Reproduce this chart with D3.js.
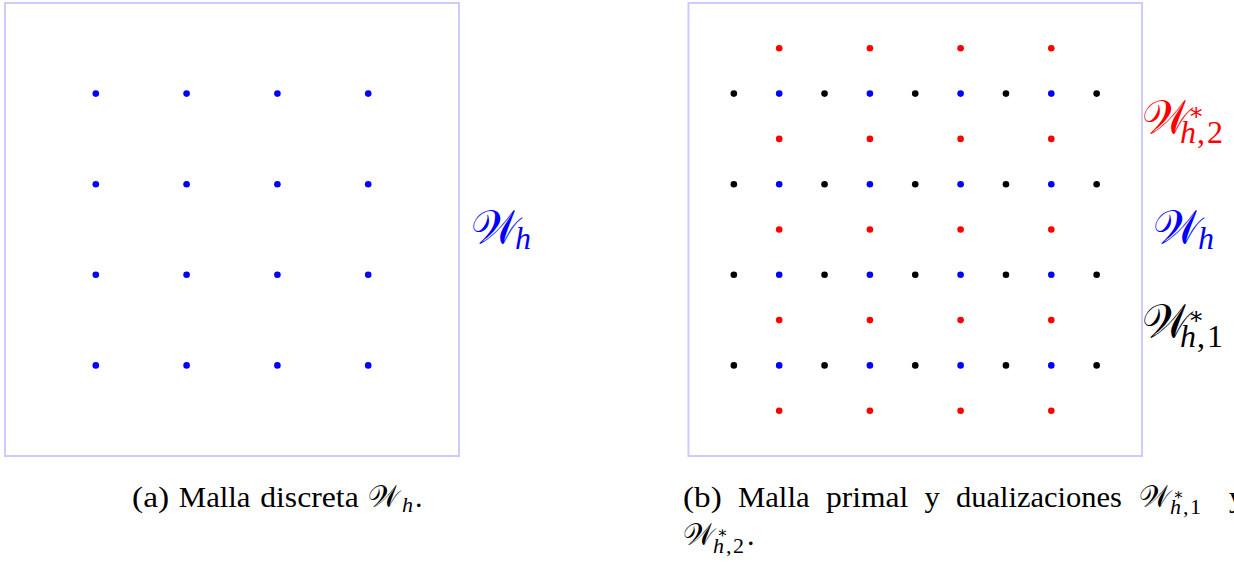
<!DOCTYPE html>
<html><head><meta charset="utf-8">
<script src="https://cdn.jsdelivr.net/npm/d3@7"></script>
<style>body{margin:0;background:#fff;overflow:hidden}</style></head>
<body>
<svg id="c" width="1234" height="570"></svg>
<script>
// ---- data (grid coordinates in units of h) ----
const domainUnits = [0, 5];
const primalX = [1, 2, 3, 4];
const primalY = [1, 2, 3, 4];
const dual1X = [0.5, 1.5, 2.5, 3.5, 4.5];
const dual1Y = [1, 2, 3, 4];
const dual2X = [1, 2, 3, 4];
const dual2Y = [0.5, 1.5, 2.5, 3.5, 4.5];

const captionA = ["(a)", "Malla", "discreta"];
const captionB1 = ["(b)", "Malla", "primal", "y", "dualizaciones"];
const captionB1End = "y";

const W = "\u{1D4B2}";
const svg = d3.select("#c");
const serif = "'Liberation Serif','DejaVu Serif',serif";

function grid(pts) { const o = []; pts.ys.forEach(y => pts.xs.forEach(x => o.push([x, y]))); return o; }

function panel(x0, x1, y0, y1, sets) {
  const sx = d3.scaleLinear().domain(domainUnits).range([x0, x1]);
  const sy = d3.scaleLinear().domain(domainUnits).range([y1, y0]);
  const g = svg.append("g");
  g.append("rect").attr("x", sx(0)).attr("y", sy(5))
    .attr("width", sx(5) - sx(0)).attr("height", sy(0) - sy(5))
    .attr("fill", "none").attr("stroke", "#ccccff").attr("stroke-width", 2);
  sets.forEach(s => {
    g.selectAll(null).data(grid(s)).enter().append("circle")
      .attr("cx", d => sx(d[0])).attr("cy", d => sy(d[1]))
      .attr("r", 3.3).attr("fill", s.color);
  });
}

panel(5, 459, 3, 456, [{xs: primalX, ys: primalY, color: "#0000ff"}]);
panel(688.5, 1142, 3, 456, [
  {xs: dual1X, ys: dual1Y, color: "#000000"},
  {xs: primalX, ys: primalY, color: "#0000ff"},
  {xs: dual2X, ys: dual2Y, color: "#ff0000"}
]);

// one <text> per math label: W, optional star superscript, subscript pieces
function mathW(o) {
  const t = svg.append("text").attr("x", o.x).attr("y", o.y)
    .attr("fill", o.color).attr("font-family", serif).attr("font-size", o.fs);
  t.append("tspan").text(W);
  if (o.star) t.append("tspan").attr("x", o.star[0]).attr("y", o.star[1])
    .attr("font-size", o.starFs).text("\u2217");
  t.append("tspan").attr("x", o.sub[0]).attr("y", o.sub[1]).attr("font-size", o.subFs)
    .attr("font-style", "italic").text("h");
  if (o.idx) {
    t.append("tspan").attr("x", o.idx[0]).attr("font-size", o.subFs).attr("font-style", "normal").text(",");
    t.append("tspan").attr("x", o.idx[1]).attr("font-size", o.subFs).attr("font-style", "normal").text(o.idxText);
  }
  if (o.tail) t.append("tspan").attr("x", o.tail).attr("y", o.y).attr("font-size", o.fs)
    .attr("font-style", "normal").text(".");
  return t;
}

// side labels
mathW({x: 471, y: 243, fs: 46, color: "#0000ff", sub: [515, 249], subFs: 32});
mathW({x: 1142, y: 133, fs: 46, color: "#ff0000", star: [1188, 120], starFs: 24,
       sub: [1180, 143], subFs: 32, idx: [1197, 1207], idxText: "2"});
mathW({x: 1153, y: 243, fs: 46, color: "#0000ff", sub: [1198, 249], subFs: 32});
mathW({x: 1142, y: 337, fs: 46, color: "#000000", star: [1188, 324], starFs: 24,
       sub: [1180, 347], subFs: 32, idx: [1197, 1207], idxText: "1"});

// captions
const fsC = 30;
const capA = {x: [132, 178.8, 260.2], w: [37.1, 71.7, 98.5]};
captionA.forEach((w, i) => svg.append("text").attr("x", capA.x[i]).attr("y", 507)
  .attr("font-family", serif).attr("font-size", fsC)
  .attr("textLength", capA.w[i]).attr("lengthAdjust", "spacingAndGlyphs").text(w));
mathW({x: 368, y: 507, fs: fsC, color: "#000", sub: [402, 511.5], subFs: 22, tail: 415});

const capB = {x: [683, 737.9, 825.9, 924.5, 956], w: [38.7, 71.7, 82.3, 15.3, 166]};
captionB1.forEach((w, i) => svg.append("text").attr("x", capB.x[i]).attr("y", 507)
  .attr("font-family", serif).attr("font-size", fsC)
  .attr("textLength", capB.w[i]).attr("lengthAdjust", "spacingAndGlyphs").text(w));
mathW({x: 1139, y: 507, fs: fsC, color: "#000", star: [1173, 500], starFs: 16,
       sub: [1170, 514], subFs: 22, idx: [1183, 1190], idxText: "1"});
svg.append("text").attr("x", 1229).attr("y", 507).attr("font-family", serif).attr("font-size", fsC).text(captionB1End);

mathW({x: 683, y: 545, fs: fsC, color: "#000", star: [717, 538], starFs: 16,
       sub: [713, 552.5], subFs: 22, idx: [726, 733], idxText: "2", tail: 747});
</script>
</body></html>
